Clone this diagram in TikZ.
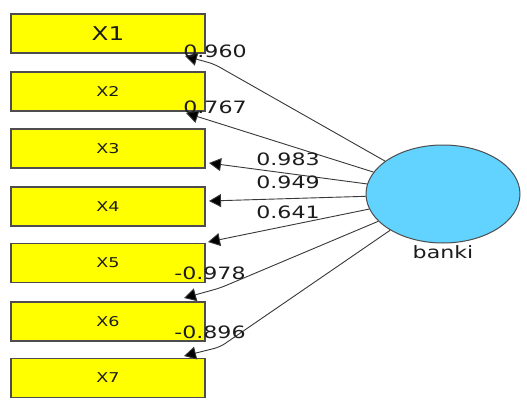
\documentclass[tikz,border=0pt]{standalone}
\usepackage{fontspec}
\setmainfont{DejaVu Sans}
\usepackage{graphicx}
\usetikzlibrary{shapes.geometric,arrows.meta}
\definecolor{boxfill}{HTML}{FFFF00}
\definecolor{boxline}{HTML}{4D4D4D}
\definecolor{latfill}{HTML}{62D2FF}
\definecolor{pathcol}{HTML}{383838}
\definecolor{txtcol}{HTML}{1C1C1C}
\newcommand\hs[1]{\scalebox{1.3}[1]{#1}}
\tikzset{
  indicator/.style={draw=boxline, line width=1.1pt, fill=boxfill, minimum width=194pt,
    minimum height=39pt, inner sep=0pt, text=txtcol, font=\fontsize{13.5}{14}\selectfont},
  latent/.style={ellipse, draw=boxline, line width=1pt, fill=latfill, minimum width=154pt,
    minimum height=98pt, inner sep=0pt},
  loading/.style={draw=pathcol, line width=0.9pt, rounded corners=6pt,
    -{Triangle[length=12pt,width=13pt,fill=black]}},
  weight/.style={text=txtcol, inner sep=0pt, font=\fontsize{17}{17}\selectfont},
}
\begin{document}
\begin{tikzpicture}[x=1pt,y=-1pt]
  \fill[white] (0,0) rectangle (527,401);
  \useasboundingbox (0,0) rectangle (527,401);

  % indicator boxes
  \node[indicator, font=\fontsize{19}{19}\selectfont] (x1) at (108,33.5) {\hs{X1}};
  \node[indicator] (x2) at (108,91.5) {\hs{X2}};
  \node[indicator] (x3) at (108,148.5) {\hs{X3}};
  \node[indicator] (x4) at (108,206.5) {\hs{X4}};
  \node[indicator] (x5) at (108,263) {\hs{X5}};
  \node[indicator] (x6) at (108,321.5) {\hs{X6}};
  \node[indicator] (x7) at (108,378) {\hs{X7}};

  % latent variable
  \node[latent] (banki) at (443,194) {};
  \node[weight, anchor=north] (bl) at (443,245) {\hs{banki}};

  % arrow end points next to the boxes, with bends for the outer paths
  \coordinate (t1) at (185,56);   \coordinate (k1) at (214,64);
  \coordinate (t2) at (186,113);
  \coordinate (t3) at (209,163);
  \coordinate (t4) at (209,201);
  \coordinate (t5) at (208,242);
  \coordinate (t6) at (184,298);  \coordinate (k6) at (220,288);
  \coordinate (t7) at (184,356);  \coordinate (k7) at (220,347);

  \draw[loading] (banki) -- (k1) -- (t1);
  \draw[loading] (banki) -- (t2);
  \draw[loading] (banki) -- (t3);
  \draw[loading] (banki) -- (t4);
  \draw[loading] (banki) -- (t5);
  \draw[loading] (banki) -- (k6) -- (t6);
  \draw[loading] (banki) -- (k7) -- (t7);

  % loadings
  \node[weight] (w1) at (215,51) {\hs{0.960}};
  \node[weight] (w2) at (215,107) {\hs{0.767}};
  \node[weight] (w3) at (288,159) {\hs{0.983}};
  \node[weight] (w4) at (288,182) {\hs{0.949}};
  \node[weight] (w5) at (288,212) {\hs{0.641}};
  \node[weight] (w6) at (210,273) {\hs{-0.978}};
  \node[weight] (w7) at (210,332) {\hs{-0.896}};
\end{tikzpicture}
\end{document}
